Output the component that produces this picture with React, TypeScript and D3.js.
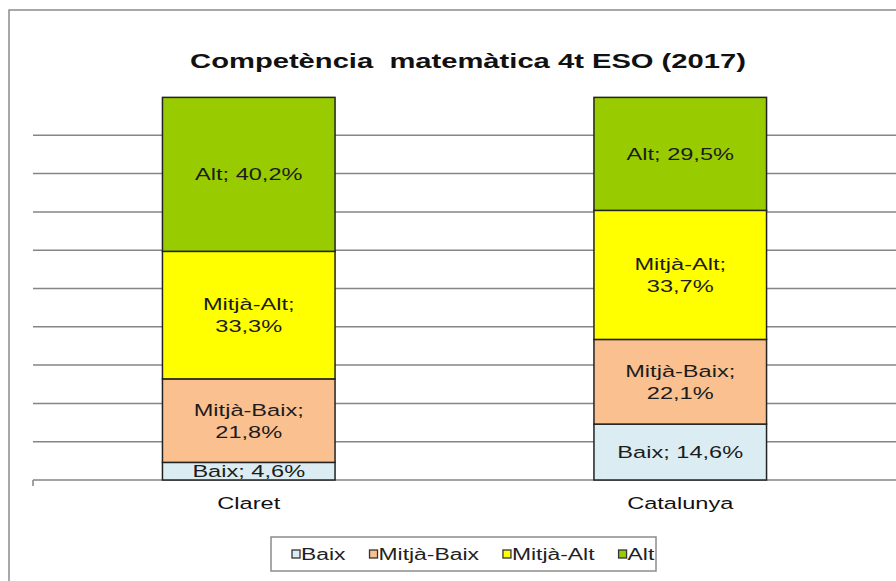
import * as d3 from 'd3'
import { useEffect } from 'react'

// data
const categories = ['Claret', 'Catalunya'];
const seriesNames = ['Baix', 'Mitjà-Baix', 'Mitjà-Alt', 'Alt'];
const baix = [4.6, 14.6];
const mitjaBaix = [21.8, 22.1];
const mitjaAlt = [33.3, 33.7];
const alt = [40.2, 29.5];
const yTicks = [10, 20, 30, 40, 50, 60, 70, 80, 90];
const title = 'Competència  matemàtica 4t ESO (2017)';

const colors = ['#dbedf2', '#fac090', '#ffff00', '#99cc00'];
// which labels break after the name
const wrapLabel = [false, true, true, false];

const W = 896, H = 581;
const SX = 1.43; // picture is stretched horizontally
const FONT = '"Liberation Sans", Arial, sans-serif';

const fmt = (v: number) => v.toFixed(1).replace('.', ',') + '%';

export default function App() {
    useEffect(() => {
        document.body.style.margin = '0';
    }, []);

    const x = d3.scaleBand<string>()
        .domain(categories)
        .range([33, 896])
        .paddingInner(0.6)
        .paddingOuter(0.3);
    const y = d3.scaleLinear().domain([0, 100]).range([480, 97]);

    const table = categories.map((c, i) => ({
        cat: c,
        'Baix': baix[i],
        'Mitjà-Baix': mitjaBaix[i],
        'Mitjà-Alt': mitjaAlt[i],
        'Alt': alt[i],
    }));
    const stacked = d3.stack<any>().keys(seriesNames)(table);

    // legend layout from measured text
    const ctx = document.createElement('canvas').getContext('2d')!;
    const legendSize = 16;
    ctx.font = `${legendSize}px ${FONT}`;
    let lx = 292;
    const legendItems = seriesNames.map(name => {
        const item = { name, x: lx };
        lx += 9 + ctx.measureText(name).width * SX + 24;
        return item;
    });

    return (
        <svg width={W} height={H} style={{ display: 'block', background: '#fff' }} fontFamily={FONT}>
            {/* outer frame */}
            <path d={`M9,${H} V10 H${W}`} fill='none' stroke='#8c8c8c' strokeWidth={1.5} />

            <text transform={`translate(${W / 2 + 20},68) scale(${SX},1)`} textAnchor='middle'
                fontSize={20.4} fontWeight='bold' fill='#111' style={{ whiteSpace: 'pre' }}>{title}</text>

            {/* gridlines */}
            {yTicks.map(t => (
                <line key={t} x1={33} x2={W} y1={y(t)} y2={y(t)} stroke='#858585' strokeWidth={1.5} />
            ))}
            {/* axis */}
            <line x1={33} x2={W} y1={y(0)} y2={y(0)} stroke='#858585' strokeWidth={1.5} />
            <line x1={33} x2={33} y1={y(0)} y2={y(0) + 6} stroke='#858585' strokeWidth={1.5} />

            {/* bars */}
            {stacked.map((s, si) => s.map((d, ci) => (
                <rect key={`${si}-${ci}`} x={x(categories[ci])!} width={x.bandwidth()}
                    y={y(d[1])} height={y(d[0]) - y(d[1])}
                    fill={colors[si]} stroke='#222' strokeWidth={1.5} />
            )))}

            {/* data labels */}
            {stacked.map((s, si) => s.map((d, ci) => {
                const cx = x(categories[ci])! + x.bandwidth() / 2;
                const cy = (y(d[0]) + y(d[1])) / 2;
                const name = seriesNames[si];
                const val = fmt(d[1] - d[0]);
                const lines = wrapLabel[si] ? [name + ';', val] : [`${name}; ${val}`];
                return (
                    <text key={`l${si}-${ci}`} transform={`translate(${cx},${cy}) scale(${SX},1)`}
                        textAnchor='middle' fontSize={16.5} fill='#1c1c1c'>
                        {lines.map((ln, k) => (
                            <tspan key={k} x={0} y={(k - (lines.length - 1) / 2) * 22 + 6}>{ln}</tspan>
                        ))}
                    </text>
                );
            }))}

            {/* category labels */}
            {categories.map(c => (
                <text key={c} transform={`translate(${x(c)! + x.bandwidth() / 2},509) scale(${SX},1)`}
                    textAnchor='middle' fontSize={16.5} fill='#111'>{c}</text>
            ))}

            {/* legend */}
            <rect x={271} y={537} width={385} height={34} fill='#fff' stroke='#8c8c8c' strokeWidth={1.5} />
            {legendItems.map((it, i) => (
                <g key={it.name}>
                    <rect x={it.x} y={550} width={8} height={8} fill={colors[i]} stroke='#333' strokeWidth={1.3} />
                    <text transform={`translate(${it.x + 9},560) scale(${SX},1)`} fontSize={legendSize} fill='#222'>{it.name}</text>
                </g>
            ))}
        </svg>
    )
}
